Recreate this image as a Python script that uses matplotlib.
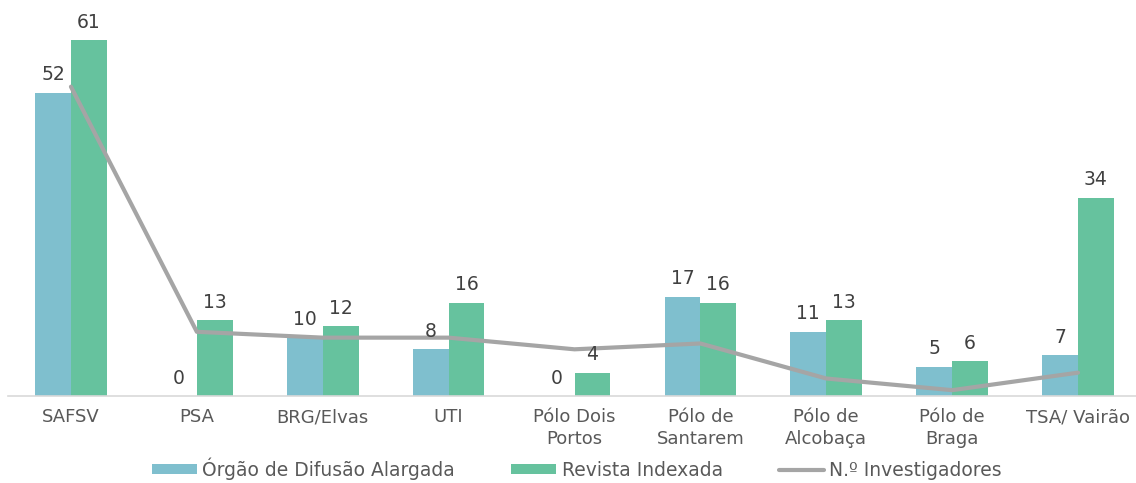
import matplotlib
matplotlib.use("Agg")
import matplotlib.pyplot as plt
import numpy as np

categories = ["SAFSV", "PSA", "BRG/Elvas", "UTI", "Pólo Dois\nPortos", "Pólo de\nSantarem",
              "Pólo de\nAlcobaça", "Pólo de\nBraga", "TSA/ Vairão"]
orgao = [52, 0, 10, 8, 0, 17, 11, 5, 7]
revista = [61, 13, 12, 16, 4, 16, 13, 6, 34]
investigadores = [53, 11, 10, 10, 8, 9, 3, 1, 4]

c_blue = "#7FBFCE"
c_green = "#66C29E"
c_line = "#A5A5A5"
c_text = "#404040"

plt.rcParams['font.family'] = ['DejaVu Sans']

fig = plt.figure(figsize=(11.36, 4.83), dpi=100)
ax = fig.add_axes([8/1136, 87/483, 1133/1136, 67*5.836/483])

x = np.arange(len(categories))
w = 0.285
b1 = ax.bar(x - w/2, orgao, w, color=c_blue, label="Órgão de Difusão Alargada")
b2 = ax.bar(x + w/2, revista, w, color=c_green, label="Revista Indexada")
ln, = ax.plot(x, investigadores, color=c_line, lw=3, label="N.º Investigadores", solid_capstyle='round')

for xi, v in zip(x - w/2, orgao):
    ax.annotate(str(v), (xi, v), xytext=(0, 6), textcoords="offset points",
                ha="center", va="bottom", fontsize=13.5, color=c_text)
for xi, v in zip(x + w/2, revista):
    ax.annotate(str(v), (xi, v), xytext=(0, 6), textcoords="offset points",
                ha="center", va="bottom", fontsize=13.5, color=c_text)

ax.set_xlim(-0.5, len(categories) - 0.5)
ax.set_ylim(0, 67)
ax.set_yticks([])
ax.set_xticks(x)
ax.set_xticklabels(categories, fontsize=13, color="#595959", linespacing=1.25)
ax.tick_params(axis='x', length=0, pad=9)
for s in ["top", "right", "left"]:
    ax.spines[s].set_visible(False)
ax.spines["bottom"].set_color("#D9D9D9")
ax.spines["bottom"].set_linewidth(1.2)

fig.legend(handles=[b1, b2, ln], loc="center", bbox_to_anchor=(0.508, 0.03), ncol=3,
           frameon=False, fontsize=13.5, handlelength=2.4, handleheight=0.45,
           handletextpad=0.28, columnspacing=3.0, labelcolor="#595959",
           borderaxespad=0, borderpad=0)

fig.savefig("out.png", dpi=100)
